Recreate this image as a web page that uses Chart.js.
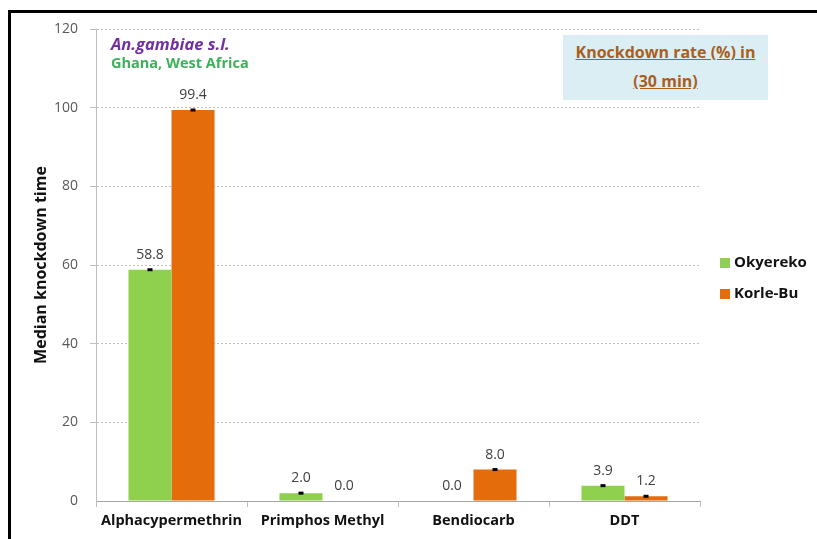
<!DOCTYPE html>
<html>
<head>
<meta charset="utf-8">
<script src="https://cdn.jsdelivr.net/npm/chart.js@4.4.1/dist/chart.umd.min.js"></script>
<style>
  body { margin: 0; background: #fff; font-family: "Open Sans", Lato, sans-serif; }
  #wrap { position: relative; width: 817px; height: 539px; overflow: hidden; }
  #frame { position: absolute; left: 8px; top: 10px; width: 820px; height: 540px;
           border-left: 3px solid #000; border-top: 3px solid #000; pointer-events: none; }
  canvas { position: absolute; left: 0; top: 0; }
  .note1 { position: absolute; left: 111px; top: 32px; font-size: 16.5px; font-weight: bold;
           font-style: italic; color: #7030A0; }
  .note2 { position: absolute; left: 111px; top: 53px; font-size: 14.5px; font-weight: bold; color: #3DB05A; }
  .box { position: absolute; left: 563px; top: 35px; width: 205px; height: 65px; background: #DBEEF4;
         text-align: center; color: #A95F1E; font-weight: bold; font-size: 16px; line-height: 29px;
         padding-top: 3px; box-sizing: border-box; }
  .box span { text-decoration: underline; }
  .legend { position: absolute; left: 720px; font-size: 15px; font-weight: bold; color: #111; }
  .legend i { display: inline-block; width: 10px; height: 10px; margin-right: 4px; vertical-align: -1px; }
</style>
</head>
<body>
<div id="wrap">
  <canvas id="chart" width="817" height="539"></canvas>
  <div id="frame"></div>
  <div class="note1">An.gambiae s.l.</div>
  <div class="note2">Ghana, West Africa</div>
  <div class="box"><span>Knockdown rate (%) in</span><br><span>(30 min)</span></div>
  <div class="legend" style="top:251px"><i style="background:#8FD14F"></i>Okyereko</div>
  <div class="legend" style="top:282px"><i style="background:#E46C0A"></i>Korle-Bu</div>
</div>
<script>
  // données
  const categories = ["Alphacypermethrin", "Primphos Methyl", "Bendiocarb", "DDT"];
  const okyereko = [58.8, 2.0, 0.0, 3.9];
  const korleBu = [99.4, 0.0, 8.0, 1.2];
  const yTicks = [0, 20, 40, 60, 80, 100, 120];

  const FONT = "'Open Sans', Lato, sans-serif";

  // étiquettes de valeur + petit repère noir au sommet des barres
  const valueLabels = {
    id: "valueLabels",
    afterDatasetsDraw(chart) {
      const ctx = chart.ctx;
      ctx.save();
      chart.data.datasets.forEach((ds, i) => {
        chart.getDatasetMeta(i).data.forEach((bar, j) => {
          const v = ds.data[j];
          if (v > 0) {
            ctx.fillStyle = "#000";
            ctx.fillRect(bar.x - 2.5, bar.y - 1.5, 5, 3);
          }
          ctx.fillStyle = "#404040";
          ctx.font = "14px " + FONT;
          ctx.textAlign = "center";
          ctx.textBaseline = "middle";
          ctx.fillText(v.toFixed(1), bar.x, bar.y - 15);
        });
      });
      ctx.restore();
    }
  };

  new Chart(document.getElementById("chart"), {
    type: "bar",
    data: {
      labels: categories,
      datasets: [
        { label: "Okyereko", data: okyereko, backgroundColor: "#8FD14F" },
        { label: "Korle-Bu", data: korleBu, backgroundColor: "#E46C0A" }
      ]
    },
    options: {
      responsive: false,
      animation: false,
      layout: { padding: { top: 29, right: 117, bottom: 0, left: 0 } },
      datasets: { bar: { categoryPercentage: 0.57, barPercentage: 1.0 } },
      plugins: { legend: { display: false }, tooltip: { enabled: false } },
      scales: {
        x: {
          afterFit: s => { s.height = 38; },
          grid: { drawOnChartArea: false, drawTicks: true, tickLength: 6, color: "#BFBFBF" },
          border: { display: true, color: "#A6A6A6" },
          ticks: { color: "#111", padding: 5, font: { family: FONT, size: 14.5, weight: "bold" } }
        },
        y: {
          min: 0, max: 120,
          afterFit: s => { s.width = 96; },
          afterBuildTicks: s => { s.ticks = yTicks.map(v => ({ value: v })); },
          grid: {
            tickLength: 6,
            color: ctx => ctx.tick && ctx.tick.value === 0 ? "rgba(0,0,0,0)" : "#BFBFBF"
          },
          border: { display: true, color: "#BFBFBF", dash: [2, 2] },
          ticks: { color: "#595959", padding: 12, font: { family: FONT, size: 14 } },
          title: {
            display: true, text: "Median knockdown time", color: "#111",
            padding: { top: 32, bottom: 0 },
            font: { family: FONT, size: 16, weight: "bold" }
          }
        }
      }
    },
    plugins: [valueLabels]
  });
</script>
</body>
</html>
